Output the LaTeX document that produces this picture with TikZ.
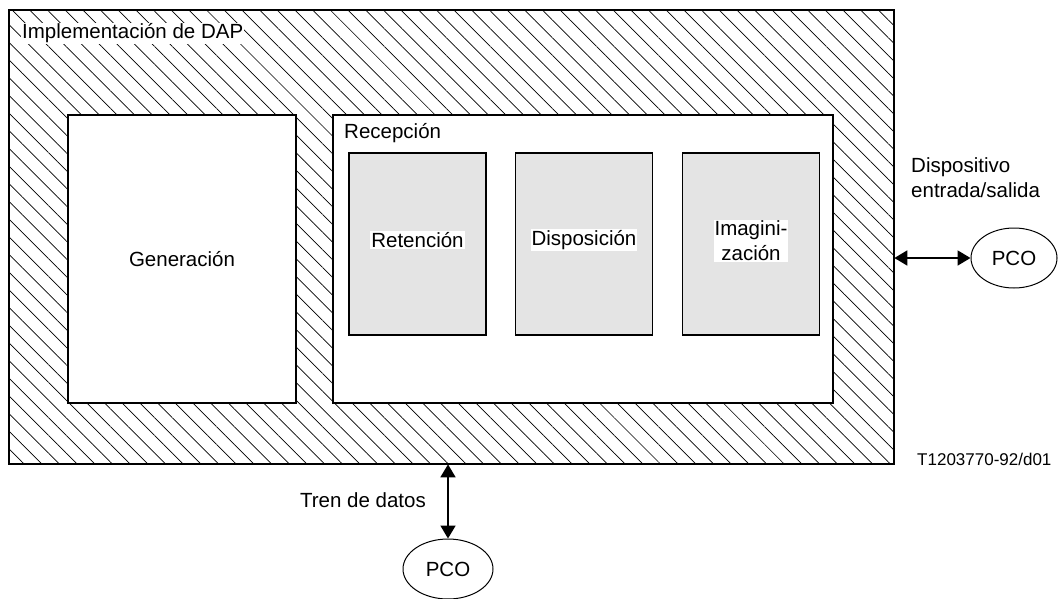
\documentclass[tikz,border=0pt]{standalone}
\usepackage{fontspec}
\setmainfont{Liberation Sans}
\usetikzlibrary{arrows.meta,shapes.geometric,patterns.meta}
\definecolor{boxgray}{HTML}{E4E4E4}

\begin{document}
\begin{tikzpicture}[x=1pt,y=-1pt,font=\fontsize{20.5}{25}\selectfont]
\tikzset{block/.style = {shape=rectangle,draw,line width=1.3pt,fill=white,inner sep=0pt}}
\tikzset{hatched/.style = {block,line width=1.5pt,pattern={Lines[angle=-45,distance=12.5pt,line width=0.7pt]}}}
\tikzset{stage/.style = {block,fill=boxgray,line width=1.1pt,minimum width=137pt,minimum height=182pt}}
\tikzset{tag/.style = {fill=white,inner sep=1pt}}
\tikzset{port/.style = {shape=ellipse,draw,line width=1pt,inner sep=0pt}}
\tikzset{link/.style = {{Triangle[length=13pt,width=15pt]}-{Triangle[length=13pt,width=15pt]},line width=1.8pt}}
\useasboundingbox (0,0) rectangle (1059,599);
% blocks
\node[hatched,minimum width=885pt,minimum height=454pt] (dap) at (451.5,237) {};
\node[tag,anchor=base west] (dapl) at (21,39) {Implementación de DAP};
\node[block,minimum width=228pt,minimum height=288pt] (gen) at (182,259) {Generación};
\node[block,minimum width=500pt,minimum height=288pt] (rec) at (583,259) {};
\node[anchor=base west,inner sep=0pt] (recl) at (344,139) {Recepción};
\node[stage] (ret)  at (417.5,244) {};
\node[stage] (disp) at (584,244) {};
\node[stage] (imag) at (751,244) {};
\node[tag] (retl)  at ([yshift=4pt]ret.center)  {Retención};
\node[tag] (displ) at ([yshift=4pt]disp.center) {Disposición};
\node[tag,align=center] (imagl) at ([yshift=3pt]imag.center) {Imagini-\\zación};
% ports
\node[port,minimum width=86pt,minimum height=60pt] (pcor) at (1014,258) {PCO};
\node[port,minimum width=90pt,minimum height=60pt] (pcob) at (448,569) {PCO};
\node[align=left,anchor=west,inner sep=0pt] (iol) at (911,178) {Dispositivo\\entrada/salida};
\node[anchor=east,inner sep=0pt] (trenl) at (426,500) {Tren de datos};
\node[anchor=west,inner sep=0pt,font=\fontsize{17}{20}\selectfont] (ref) at (917,459) {T1203770-92/d01};
% links
\draw[link] (pcor.west -| dap.east) -- (pcor.west);
\draw[link] (pcob.north |- dap.south) -- (pcob.north);
\end{tikzpicture}
\end{document}
